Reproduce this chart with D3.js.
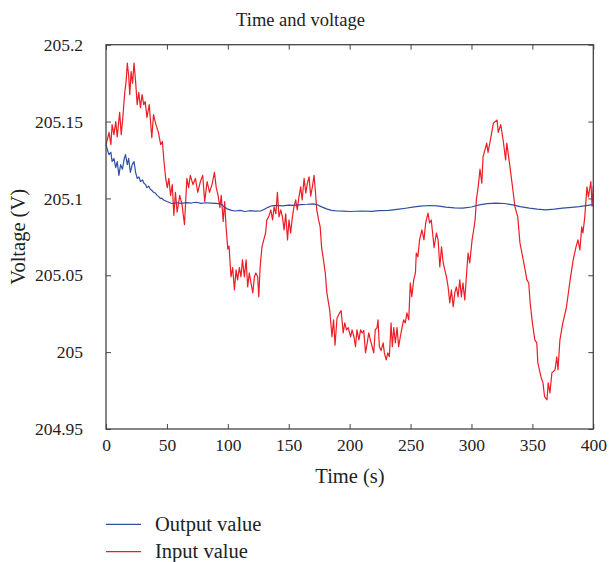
<!DOCTYPE html>
<html>
<head>
<meta charset="utf-8">
<script src="https://cdn.jsdelivr.net/npm/d3@7"></script>
<style>
html,body{margin:0;padding:0;background:#fff;}
svg text{font-family:"Liberation Serif","DejaVu Serif",serif;fill:#222;}
</style>
</head>
<body>
<svg id="chart" width="609" height="562"></svg>
<script>
// ---- data ----
const title = "Time and voltage";
const xLabel = "Time (s)";
const yLabel = "Voltage (V)";
const xTicks = [0, 50, 100, 150, 200, 250, 300, 350, 400];
const yTicks = [204.95, 205, 205.05, 205.1, 205.15, 205.2];
const yTickLabels = ["204.95", "205", "205.05", "205.1", "205.15", "205.2"];
const seriesNames = ["Output value", "Input value"];

const inputTime = [0,1,2.5,4,5,6.5,8,9.2,11.2,12.5,14,15.4,16.5,17.5,18.6,19.5,20.6,21.8,23,24.3,25.6,26.9,28.3,29.6,31,32.2,33.6,35.5,37.6,39,41,43,44.9,46.3,47.6,49,50.3,51.6,53,54.4,55.7,57,58.4,60.5,62.4,64.4,66.4,67.8,69.2,71.4,73.4,75.3,77.5,79.4,81,83,85,87,89,90.5,92,93.5,94.6,96.2,97.4,98.5,100,101,102.6,104,105.4,106.8,108,109.5,110.8,112,113.6,115,116.3,117.6,119,120.5,121.8,123,124.5,125.4,126.5,128,129.5,131,132,133.5,135.3,136.7,138,139.4,140.7,142,143.5,144.8,146.2,147.5,149,150.2,151.6,153,154.3,155.7,157,158.4,159.8,161,162.6,164,165.3,166.7,168,169.4,170.8,172,173,174.5,175.8,177,178.5,180,181.3,183.6,185.5,186.8,188,189.6,191.7,193,194.7,196,197.4,198.8,200.8,202,203.5,204.8,206,207.6,209,210.3,211.6,213,214.4,215.7,217,218.5,219.8,221,222.5,223.3,224.4,225.8,227.5,228.5,230,231.3,232.6,234,235,236.2,237.5,238.9,240.2,241.6,243,244.3,245.7,247,248.5,249.8,251,252.6,254,254.7,256,257.4,259.3,261,262.4,264.3,265.6,267,269.3,271.2,272.6,274,275.4,276.8,278.1,279.5,280.8,282.2,283.5,285,286.3,287.6,289,290.4,291.7,293,294.5,295.8,297.2,298.6,300.5,301.5,303,304,305.5,307,308.5,309.5,312.5,313.6,316,318,321,322,324,326,328,329,331.6,334,335.7,338,339.8,342.5,345.5,347,348.2,350,352,353.6,354.5,357,358.7,360,362,363,364.4,366,368.6,370,371,372.6,375,378,381,383.5,385.8,387.4,389,390.5,391.5,393,394.8,396,398,399,400];
const inputValue = [205.135,205.138,205.143,205.135,205.148,205.1415,205.15,205.14,205.156,205.1415,205.1545,205.169,205.176,205.188,205.18,205.1675,205.1825,205.175,205.188,205.176,205.161,205.169,205.159,205.1675,205.161,205.163,205.1525,205.161,205.1395,205.1545,205.148,205.143,205.135,205.137,205.124,205.113,205.107,205.113,205.102,205.109,205.089,205.104,205.091,205.102,205.096,205.083,205.113,205.107,205.115,205.109,205.113,205.104,205.111,205.115,205.098,205.111,205.104,205.109,205.117,205.107,205.102,205.094,205.102,205.085,205.098,205.082,205.067,205.069,205.049,205.055,205.0405,205.0535,205.047,205.055,205.049,205.06,205.049,205.06,205.0425,205.0515,205.045,205.0385,205.049,205.0515,205.049,205.036,205.055,205.0685,205.073,205.0775,205.086,205.088,205.0925,205.086,205.0945,205.09,205.104,205.088,205.0925,205.088,205.0795,205.09,205.073,205.086,205.0775,205.088,205.0945,205.099,205.0925,205.101,205.1075,205.099,205.113,205.1035,205.11,205.114,205.1015,205.1075,205.115,205.1035,205.0925,205.086,205.0815,205.068,205.06,205.0515,205.0385,205.0275,205.01,205.021,205.0045,205.022,205.0255,205.027,205.0125,205.019,205.0145,205.016,205.01,205.0145,205.01,205.0035,205.0145,205.008,205.0145,205.0125,205.014,204.9995,205.006,205.0125,205.008,205.0035,204.9995,205.0145,205.016,205.021,205.0035,205.001,205.006,204.9995,204.995,204.9995,204.997,205.019,205.0035,205.016,205.006,205.016,205.0035,205.01,205.016,205.021,205.019,205.0255,205.021,205.045,205.036,205.047,205.0515,205.0645,205.062,205.073,205.0795,205.073,205.084,205.0905,205.084,205.086,205.068,205.0775,205.073,205.0555,205.0685,205.058,205.0535,205.049,205.0425,205.032,205.0405,205.0295,205.0385,205.0425,205.036,205.047,205.036,205.045,205.034,205.049,205.0645,205.058,205.073,205.078,205.086,205.099,205.1075,205.119,205.11,205.127,205.136,205.13,205.14,205.149,205.151,205.143,205.148,205.138,205.125,205.136,205.1205,205.1055,205.0945,205.088,205.071,205.06,205.047,205.045,205.032,205.019,205.008,205.006,204.993,204.984,204.98,204.971,204.969,204.98,204.9735,204.9865,204.9885,204.997,204.9885,205.008,205.019,205.0295,205.047,205.06,205.0685,205.073,205.0665,205.0815,205.0775,205.088,205.1075,205.101,205.111,205.095,205.108];

const outputTime = [0,1,2.5,4,5,6.5,8,9.2,10.6,12,13.5,15,16,17.5,18.6,20,21.5,23,24.3,25.6,27,28.3,30,31,32.5,33.6,35,36.4,38,39,40.5,42,43.5,44.6,46,47.3,50,53,55.7,58.4,62,66,70,74,78,82,86,90,94,97,100,103,106,110,114,118,122,127,130,133,136,140,145,150,155,160,165,170,173,177,181,185,190,195,200,210,218,224,232,240.5,246,251.7,258,265.4,272,279,286,292.8,300,306.4,313,320,327,333.8,340,347.5,354,361,368,374.8,382,388.5,394,398,400];
const outputValue = [205.135,205.132,205.1285,205.13,205.124,205.126,205.12,205.124,205.115,205.122,205.119,205.126,205.1285,205.122,205.126,205.117,205.122,205.124,205.117,205.113,205.114,205.111,205.112,205.11,205.109,205.107,205.108,205.106,205.105,205.104,205.1035,205.102,205.101,205.1,205.1,205.099,205.098,205.097,205.0968,205.0972,205.0968,205.0973,205.097,205.0975,205.0968,205.0972,205.097,205.0968,205.0965,205.0945,205.093,205.0922,205.0918,205.0922,205.0915,205.092,205.0917,205.0918,205.093,205.0942,205.0952,205.0955,205.0952,205.0957,205.0955,205.096,205.0962,205.0965,205.096,205.0945,205.0932,205.0922,205.0918,205.0917,205.0915,205.0918,205.0916,205.092,205.0922,205.093,205.0936,205.0943,205.095,205.0954,205.0951,205.0943,205.0939,205.0937,205.0944,205.0958,205.0966,205.097,205.0967,205.0958,205.0947,205.0937,205.093,205.0926,205.093,205.0937,205.0942,205.0947,205.0953,205.0958,205.0958];

const colors = {output: "#2f4fa2", input: "#ee1c24"};

// ---- layout ----
const svg = d3.select("#chart");
const L = 106, R = 593.3, T = 44.7, B = 429;
const x = d3.scaleLinear().domain([0, 400]).range([L, R]);
const y = d3.scaleLinear().domain([204.95, 205.2]).range([B, T]);
const tickFont = 17.5, titleFont = 18.5, labelFont = 20.5, legendFont = 20.5;
const frameColor = "#444";

// lines
const line = d3.line().x(d => x(d[0])).y(d => y(d[1]));
const inputData = inputTime.map((t, i) => [t, inputValue[i]]);
const outputData = outputTime.map((t, i) => [t, outputValue[i]]);

svg.append("path").datum(inputData)
  .attr("d", line).attr("fill", "none")
  .attr("stroke", colors.input).attr("stroke-width", 1.2)
  .attr("stroke-linejoin", "round");
svg.append("path").datum(outputData)
  .attr("d", line).attr("fill", "none")
  .attr("stroke", colors.output).attr("stroke-width", 1.2)
  .attr("stroke-linejoin", "round");

// axes (ticks inward)
function styleAxis(g) {
  g.selectAll(".domain").remove();
  g.selectAll(".tick line").attr("stroke", frameColor).attr("stroke-width", 1);
  g.selectAll(".tick text").attr("font-size", tickFont)
    .attr("font-family", "Liberation Serif, DejaVu Serif, serif").attr("fill", "#222");
}
svg.append("g").attr("transform", `translate(0,${B})`)
  .call(d3.axisBottom(x).tickValues(xTicks).tickSizeInner(-5).tickSizeOuter(0).tickPadding(10).tickFormat(d3.format("d")))
  .call(styleAxis);
svg.append("g").attr("transform", `translate(0,${T})`)
  .call(d3.axisTop(x).tickValues(xTicks).tickSizeInner(-5).tickSizeOuter(0).tickFormat(""))
  .call(styleAxis);
svg.append("g").attr("transform", `translate(${L},0)`)
  .call(d3.axisLeft(y).tickValues(yTicks).tickSizeInner(-5).tickSizeOuter(0).tickPadding(23)
        .tickFormat((d, i) => yTickLabels[i]))
  .call(styleAxis);
svg.append("g").attr("transform", `translate(${R},0)`)
  .call(d3.axisRight(y).tickValues(yTicks).tickSizeInner(-5).tickSizeOuter(0).tickFormat(""))
  .call(styleAxis);

// frame
svg.append("rect").attr("x", L).attr("y", T).attr("width", R - L).attr("height", B - T)
  .attr("fill", "none").attr("stroke", frameColor).attr("stroke-width", 1.3);

// titles
svg.append("text").attr("x", 300.5).attr("y", 25.5).attr("text-anchor", "middle")
  .attr("font-size", titleFont).text(title);
svg.append("text").attr("x", 350).attr("y", 483).attr("text-anchor", "middle")
  .attr("font-size", labelFont).text(xLabel);
svg.append("text").attr("transform", `translate(25,${(T + B) / 2}) rotate(-90)`)
  .attr("text-anchor", "middle").attr("font-size", labelFont).text(yLabel);

// legend
const legend = svg.append("g");
[{name: seriesNames[0], c: colors.output, yy: 524.3},
 {name: seriesNames[1], c: colors.input, yy: 551.7}].forEach(d => {
  legend.append("line").attr("x1", 106).attr("x2", 141).attr("y1", d.yy).attr("y2", d.yy)
    .attr("stroke", d.c).attr("stroke-width", 1.3);
  legend.append("text").attr("x", 155).attr("y", d.yy + 6.5).attr("font-size", legendFont).text(d.name);
});
</script>
</body>
</html>
